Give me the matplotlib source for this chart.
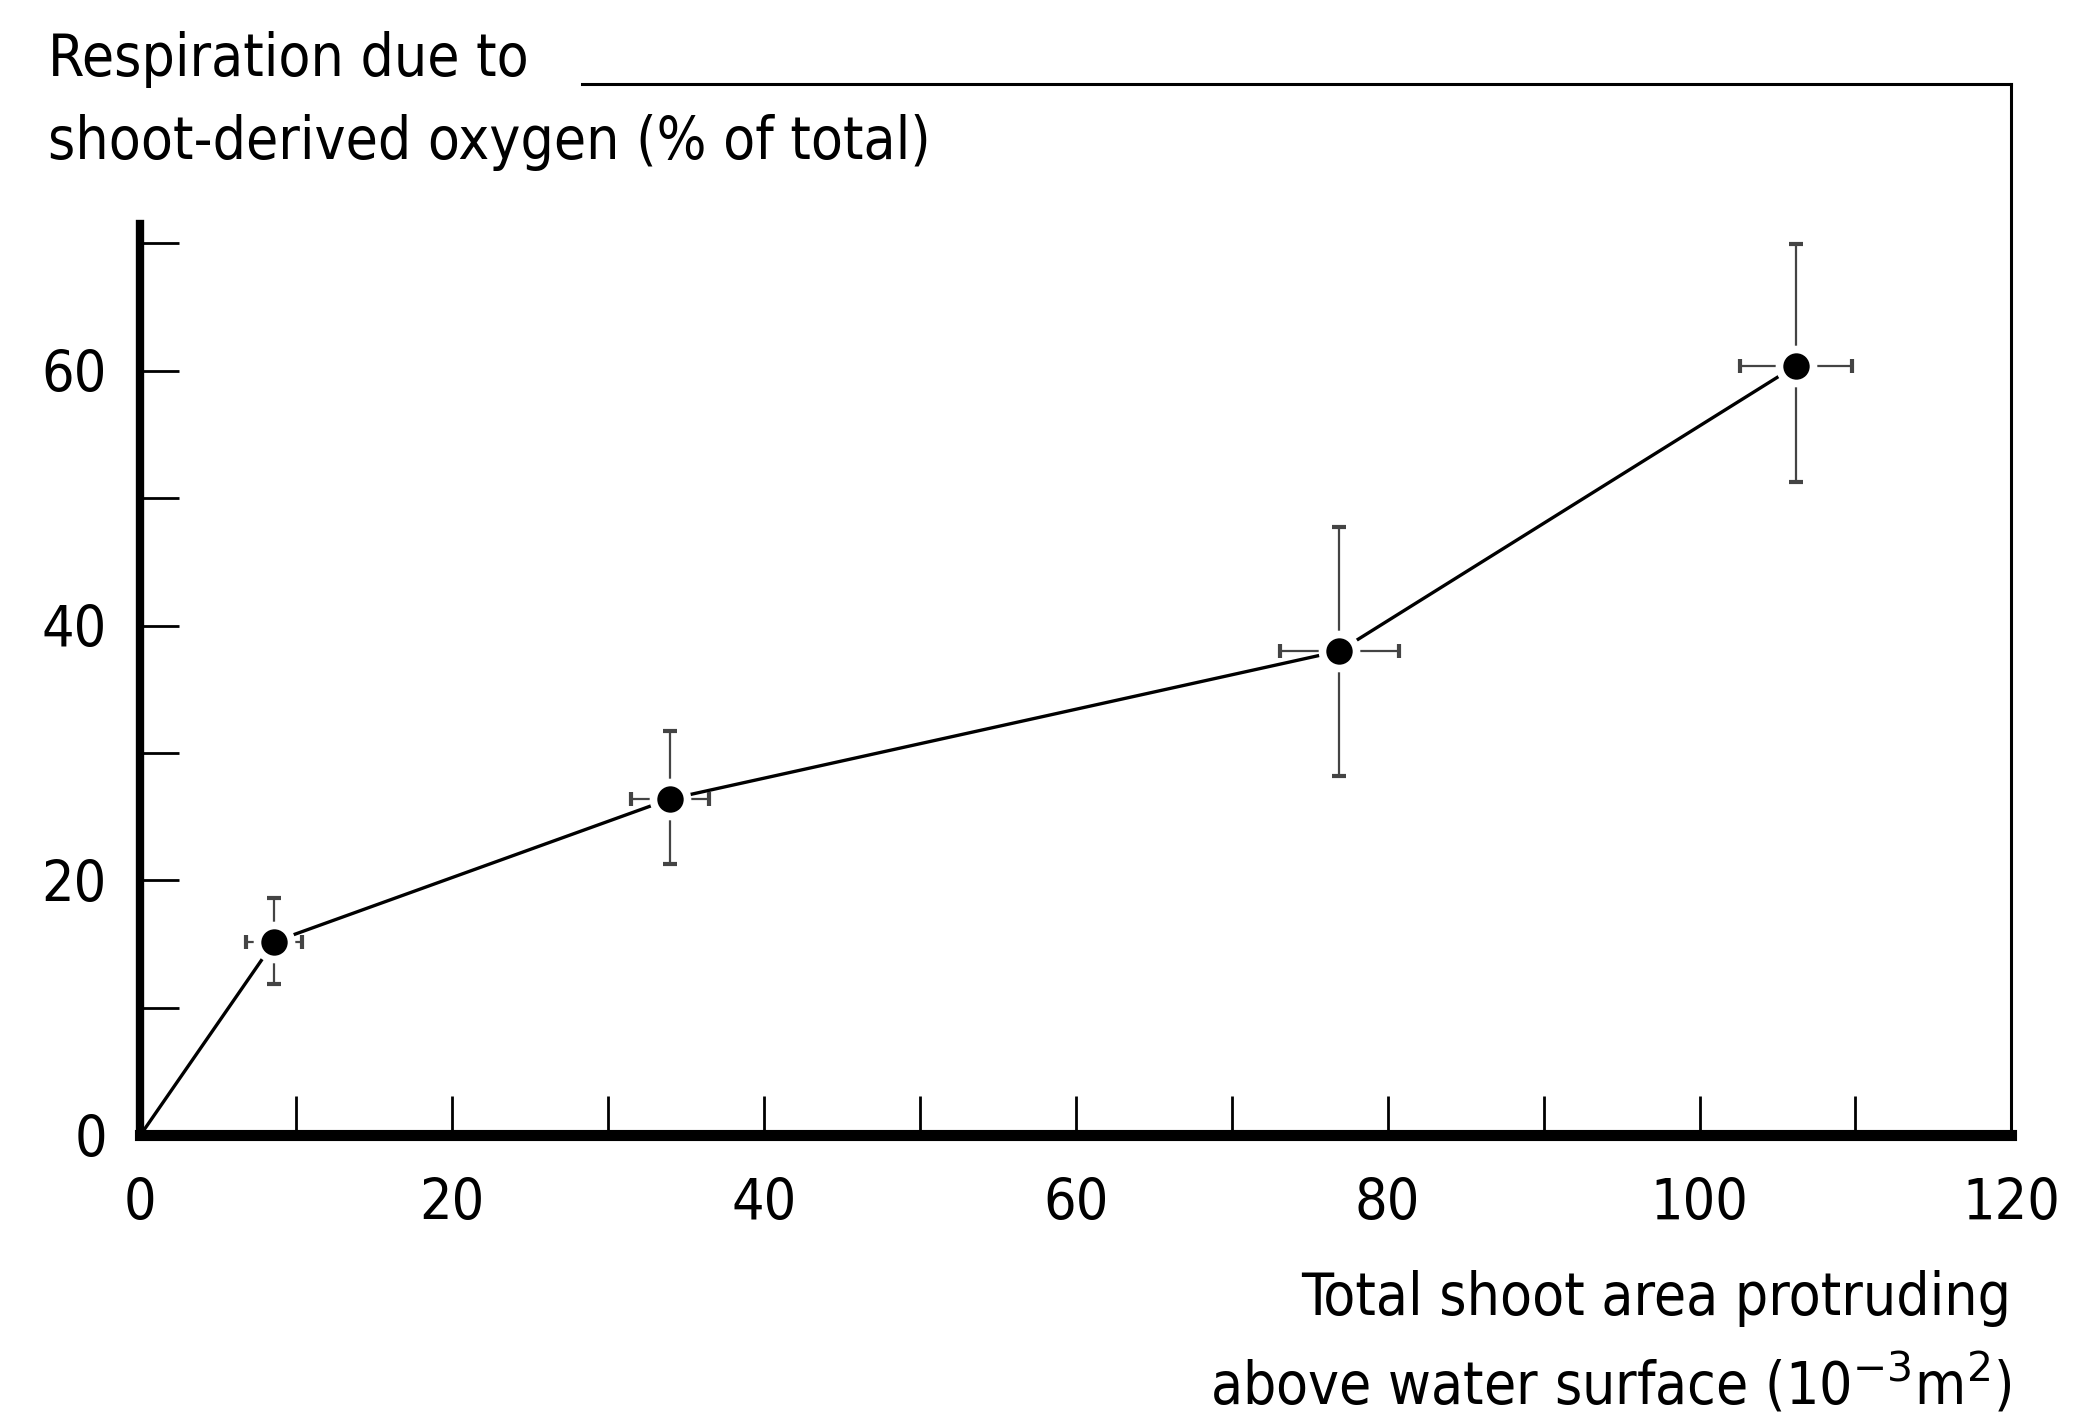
import matplotlib
matplotlib.use("Agg")
import matplotlib.pyplot as plt

# Data
area = [0, 8.6, 34.0, 76.9, 106.2]
resp = [0, 15.2, 26.4, 38.0, 60.4]
area_err = [0, 1.8, 2.5, 3.8, 3.6]
resp_err_low = [0, 3.3, 5.1, 9.8, 9.1]
resp_err_high = [0, 3.4, 5.3, 9.7, 9.5]
x_major = [0, 20, 40, 60, 80, 100, 120]
y_major = [0, 20, 40, 60]

FONT = dict(family="DejaVu Sans", stretch="condensed")

fig = plt.figure(figsize=(20.93, 14.21), dpi=100)
ax = fig.add_axes([0.067, 0.201, 0.894, 0.74])

ax.set_xlim(0, 120)
ax.set_ylim(0, 82.5)

ax.plot(area, resp, color="black", lw=2.4, zorder=2)
ax.errorbar(area[1:], resp[1:], xerr=area_err[1:],
            yerr=[resp_err_low[1:], resp_err_high[1:]],
            fmt="none", ecolor="#444444", elinewidth=1.6, capsize=5, capthick=3, zorder=3)
ax.plot(area[1:], resp[1:], "o", color="white", ms=30, mew=0, zorder=4)
ax.plot(area[1:], resp[1:], "o", color="black", ms=19, mew=0, zorder=5)

for s in ["left", "bottom", "top", "right"]:
    ax.spines[s].set_color("black")
ax.spines["left"].set_linewidth(6)
ax.spines["left"].set_bounds(0, 71.5)
ax.spines["bottom"].set_linewidth(8)
ax.spines["top"].set_linewidth(2.2)
ax.spines["top"].set_bounds(28.3, 120)
ax.spines["right"].set_linewidth(2.2)

ax.set_xticks(range(0, 121, 10))
ax.set_xticklabels([str(v) if v in x_major else "" for v in range(0, 121, 10)], **FONT)
ax.set_yticks(range(0, 71, 10))
ax.set_yticklabels([str(v) if v in y_major else "" for v in range(0, 71, 10)], **FONT)
ax.tick_params(axis="both", direction="in", length=28, width=2, labelsize=41, colors="black")
ax.tick_params(axis="x", pad=30)
ax.tick_params(axis="y", pad=24)

fig.text(0.023, 0.958, "Respiration due to", fontsize=42, va="center", ha="left", **FONT)
fig.text(0.023, 0.900, "shoot-derived oxygen (% of total)", fontsize=42, va="center", ha="left", **FONT)

fig.text(0.961, 0.086, "Total shoot area protruding", fontsize=42, va="center", ha="right", **FONT)
fig.text(0.961, 0.026, r"above water surface (10$^{-3}$m$^{2}$)", fontsize=42, va="center", ha="right", **FONT)

fig.savefig("out.png", dpi=100, facecolor="white")
